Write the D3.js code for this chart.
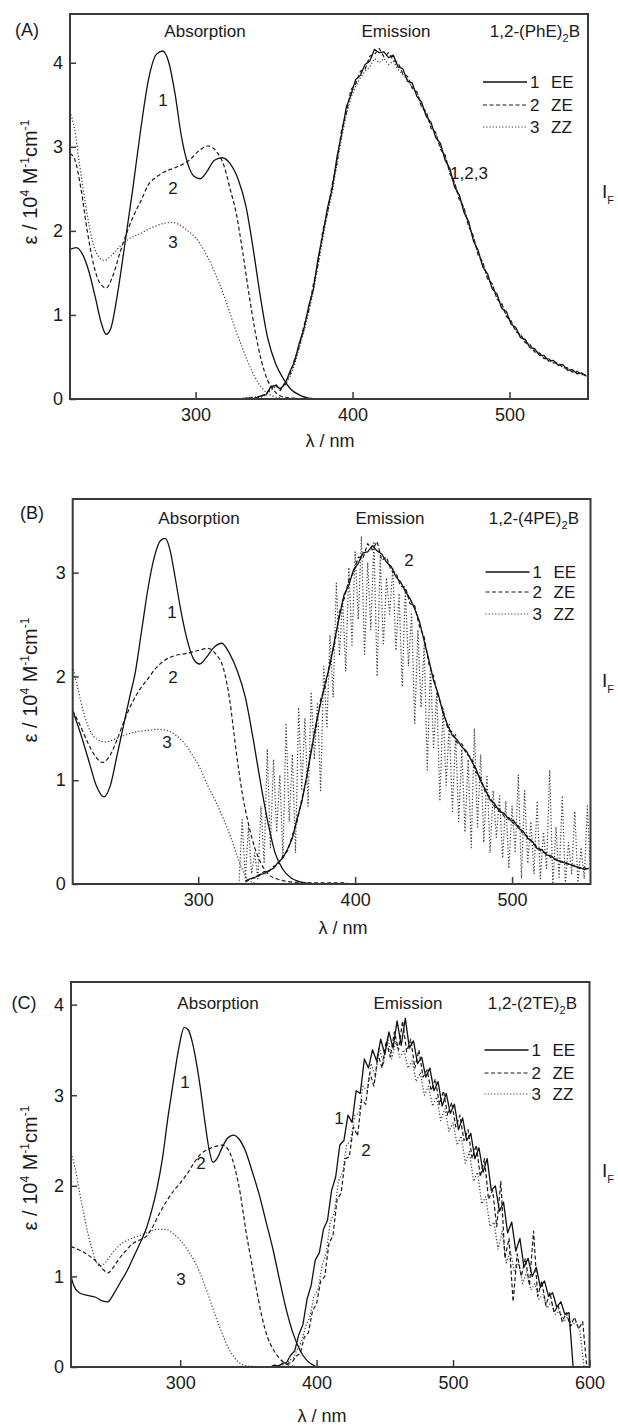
<!DOCTYPE html>
<html>
<head>
<meta charset="utf-8">
<script src="https://cdn.jsdelivr.net/npm/d3@7"></script>
<style>
  body { margin: 0; background: #fff; }
  svg { display: block; }
  text { font-family: "Liberation Sans", Arial, sans-serif; fill: #1a1a1a; }
</style>
</head>
<body>
<div id="chart"></div>
<script>
// ---- axis ticks ----
const xTicksAB = [300, 400, 500];
const xTicksC = [300, 400, 500, 600];
const yTicksA = [0, 1, 2, 3, 4];
const yTicksB = [0, 1, 2, 3];
const yTicksC = [0, 1, 2, 3, 4];
const seriesNames = ['EE', 'ZE', 'ZZ'];
const legendNums = ['1', '2', '3'];

// ---- absorption spectra [nm, eps / 10^4] ----
const absA_EE = [[220,1.78],[224,1.8],[228,1.72],[232,1.52],[236,1.22],[240,0.9],[243,0.77],[246,0.84],[250,1.22],[255,1.85],[260,2.5],[265,3.2],[270,3.8],[275,4.1],[279,4.14],[283,4.0],[287,3.62],[291,3.12],[295,2.8],[299,2.65],[303,2.62],[307,2.7],[312,2.84],[317,2.87],[322,2.8],[327,2.62],[332,2.3],[337,1.75],[341,1.25],[346,0.72],[351,0.42],[356,0.24],[361,0.11],[366,0.05],[372,0.01],[380,0]];
const absA_ZE = [[220,2.92],[223,2.85],[227,2.5],[231,2.0],[235,1.6],[239,1.38],[243,1.32],[247,1.45],[252,1.75],[257,2.02],[261,2.2],[265,2.35],[270,2.55],[275,2.64],[280,2.7],[288,2.76],[296,2.84],[302,2.95],[308,3.01],[313,2.95],[318,2.78],[322,2.5],[326,2.2],[330,1.75],[334,1.25],[338,0.8],[342,0.45],[346,0.22],[350,0.1],[355,0.03],[362,0.01],[370,0],[398,0]];
const absA_ZZ = [[220,3.42],[223,3.2],[226,2.8],[230,2.3],[234,1.9],[238,1.7],[242,1.65],[246,1.7],[250,1.78],[255,1.87],[260,1.93],[265,1.97],[270,2.02],[275,2.06],[280,2.09],[285,2.1],[290,2.07],[295,2.0],[300,1.92],[305,1.78],[310,1.6],[315,1.38],[320,1.13],[325,0.85],[330,0.6],[335,0.37],[340,0.19],[345,0.08],[350,0.03],[355,0.01],[360,0]];

const absB_EE = [[220,1.67],[225,1.45],[230,1.2],[235,0.95],[240,0.84],[244,0.95],[248,1.22],[252,1.5],[256,1.78],[260,2.05],[264,2.45],[268,2.85],[272,3.15],[276,3.31],[279,3.33],[282,3.22],[285,2.98],[289,2.63],[293,2.35],[297,2.17],[301,2.12],[305,2.18],[310,2.28],[315,2.32],[320,2.22],[325,2.05],[330,1.8],[335,1.4],[340,0.95],[345,0.55],[349,0.3],[354,0.14],[359,0.06],[365,0.02],[372,0]];
const absB_ZE = [[220,1.67],[225,1.52],[230,1.35],[235,1.22],[239,1.17],[243,1.22],[248,1.38],[253,1.58],[258,1.75],[263,1.88],[268,1.98],[273,2.08],[278,2.15],[285,2.2],[292,2.22],[300,2.25],[306,2.27],[311,2.22],[316,2.08],[320,1.78],[324,1.3],[328,0.88],[332,0.58],[336,0.35],[340,0.2],[345,0.09],[350,0.05],[360,0.02],[380,0.01],[395,0.01]];
const absB_ZZ = [[220,2.1],[223,1.9],[227,1.65],[231,1.48],[236,1.39],[241,1.37],[246,1.39],[251,1.42],[256,1.45],[262,1.47],[268,1.48],[274,1.49],[280,1.48],[286,1.43],[291,1.36],[296,1.25],[301,1.12],[306,0.95],[311,0.8],[316,0.63],[321,0.44],[326,0.22],[330,0.08],[334,0.02],[340,0]];

const absC_EE = [[220,1.0],[222,0.9],[226,0.82],[232,0.79],[238,0.77],[243,0.73],[247,0.72],[251,0.8],[256,0.93],[261,1.06],[266,1.22],[271,1.38],[275,1.52],[279,1.72],[283,1.97],[287,2.3],[291,2.75],[295,3.15],[299,3.52],[303,3.75],[306,3.72],[309,3.58],[312,3.35],[315,3.06],[318,2.72],[321,2.42],[324,2.26],[327,2.3],[331,2.43],[335,2.53],[339,2.56],[343,2.52],[348,2.38],[353,2.15],[358,1.9],[363,1.6],[368,1.3],[373,0.95],[378,0.62],[383,0.36],[388,0.18],[393,0.07],[399,0.01]];
const absC_ZE = [[220,1.33],[225,1.3],[230,1.26],[235,1.21],[240,1.14],[244,1.07],[247,1.04],[251,1.1],[255,1.19],[260,1.28],[265,1.36],[270,1.4],[275,1.44],[280,1.55],[285,1.7],[290,1.83],[295,1.94],[300,2.03],[305,2.13],[310,2.25],[315,2.35],[320,2.4],[325,2.43],[331,2.45],[336,2.38],[340,2.2],[344,1.92],[348,1.52],[352,1.18],[356,0.85],[360,0.55],[364,0.33],[368,0.2],[372,0.11],[376,0.05],[380,0.02],[387,0]];
const absC_ZZ = [[220,2.36],[223,2.2],[226,1.95],[229,1.72],[232,1.5],[235,1.32],[238,1.18],[241,1.11],[245,1.15],[250,1.25],[256,1.35],[263,1.41],[270,1.45],[277,1.49],[283,1.52],[289,1.52],[295,1.47],[300,1.4],[305,1.3],[310,1.18],[315,1.02],[320,0.82],[325,0.6],[330,0.4],[335,0.22],[340,0.1],[345,0.03],[350,0.01],[370,0]];

// ---- emission spectra: first wavelength, step (nm), intensities ----
const emA_EE = [0.00,0.01,0.00,0.02,0.04,0.05,0.15,0.16,0.12,0.18,0.32,0.44,0.66,0.83,1.1,1.3,1.67,1.95,2.27,2.5,2.87,3.15,3.47,3.62,3.8,3.85,3.98,4.02,4.16,4.12,4.13,4.06,4.09,3.95,3.93,3.78,3.76,3.6,3.53,3.36,3.29,3.11,3.04,2.84,2.74,2.52,2.43,2.22,2.11,1.88,1.77,1.57,1.49,1.31,1.25,1.08,1.04,0.89,0.85,0.73,0.71,0.61,0.6,0.52,0.52,0.45,0.46,0.4,0.41,0.34,0.35,0.3,0.31,0.27];
const emA_ZE = [0.01,0.00,0.02,0.01,0.03,0.07,0.12,0.18,0.1,0.2,0.28,0.47,0.62,0.87,1.05,1.36,1.6,2.0,2.21,2.55,2.8,3.2,3.4,3.68,3.75,3.9,3.92,4.08,4.1,4.17,4.07,4.12,4.03,4.0,3.87,3.84,3.7,3.65,3.47,3.42,3.22,3.17,2.97,2.9,2.68,2.58,2.37,2.28,2.05,1.94,1.71,1.63,1.43,1.37,1.19,1.14,0.98,0.93,0.8,0.77,0.67,0.65,0.56,0.55,0.48,0.48,0.43,0.43,0.38,0.37,0.32,0.33,0.29,0.29];
const emA_ZZ = [0.00,0.02,0.01,0.03,0.02,0.06,0.1,0.15,0.13,0.16,0.26,0.4,0.6,0.8,1.02,1.28,1.58,1.9,2.2,2.45,2.78,3.1,3.38,3.58,3.72,3.82,3.9,3.95,4.05,4.0,4.05,3.98,4.02,3.92,3.86,3.8,3.7,3.66,3.48,3.4,3.25,3.16,3.0,2.88,2.7,2.56,2.4,2.27,2.07,1.92,1.73,1.62,1.44,1.36,1.2,1.12,1.0,0.92,0.82,0.76,0.68,0.64,0.57,0.55,0.49,0.47,0.43,0.42,0.37,0.36,0.33,0.31,0.3,0.27];

const emB_EE = [0.03,0.05,0.06,0.09,0.1,0.13,0.15,0.21,0.25,0.34,0.44,0.63,0.79,1.03,1.27,1.54,1.74,1.94,2.11,2.36,2.58,2.79,2.88,3.03,3.09,3.19,3.2,3.26,3.21,3.18,3.1,3.06,2.96,2.91,2.82,2.75,2.65,2.53,2.34,2.16,1.96,1.83,1.65,1.53,1.43,1.39,1.32,1.28,1.19,1.11,0.99,0.91,0.81,0.77,0.7,0.68,0.62,0.61,0.54,0.51,0.44,0.41,0.34,0.33,0.28,0.27,0.23,0.22,0.2,0.19,0.17,0.16,0.14,0.15];
const emB_ZE = [0.02,0.04,0.07,0.08,0.12,0.12,0.17,0.19,0.27,0.32,0.47,0.6,0.82,1.0,1.3,1.5,1.78,1.9,2.15,2.32,2.62,2.75,2.93,3.0,3.15,3.14,3.28,3.22,3.3,3.12,3.15,3.02,3.0,2.87,2.86,2.7,2.68,2.48,2.38,2.12,2.0,1.8,1.68,1.5,1.46,1.36,1.35,1.25,1.22,1.08,1.02,0.88,0.84,0.74,0.72,0.65,0.64,0.58,0.56,0.48,0.46,0.39,0.36,0.31,0.3,0.25,0.24,0.21,0.21,0.18,0.18,0.15,0.16,0.13];
const emB_ZZ = [0.0,0.62,0.05,0.55,0.1,0.3,0.05,0.75,0.2,1.3,0.35,1.2,0.5,1.05,0.25,1.55,0.6,1.25,0.3,1.7,0.9,1.6,0.75,1.85,1.2,1.75,0.9,2.1,1.5,2.4,1.8,2.9,2.2,2.75,2.05,3.05,2.3,3.2,2.55,3.35,2.2,3.1,2.45,3.3,2.0,3.15,2.3,2.95,2.6,3.05,2.25,2.8,1.9,2.85,2.1,2.6,1.55,2.45,1.7,2.3,1.1,2.1,1.3,1.85,0.8,1.7,0.95,1.55,0.7,1.45,0.6,1.3,0.5,1.2,0.35,1.5,0.55,1.25,0.4,1.05,0.3,0.9,0.45,0.85,0.25,0.8,0.15,0.75,0.3,1.05,0.05,0.9,0.2,0.6,0.1,0.8,0.05,0.5,0.15,1.1,0.0,0.55,0.05,0.85,0.0,0.4,0.1,0.7,0.0,0.35,0.05,0.75,0.1];

const emC_EE = [0.0,0.02,0.01,0.04,0.05,0.13,0.18,0.36,0.47,0.75,0.9,1.18,1.26,1.52,1.62,1.95,2.1,2.45,2.5,2.78,2.7,3.05,3.02,3.4,3.3,3.5,3.38,3.62,3.45,3.7,3.52,3.82,3.55,3.85,3.52,3.6,3.35,3.42,3.2,3.3,3.05,3.15,2.88,3.02,2.8,2.9,2.62,2.75,2.5,2.58,2.3,2.42,2.15,2.3,1.95,2.0,1.72,1.82,1.48,1.6,1.28,1.42,1.1,1.2,1.0,1.1,0.88,0.95,0.78,0.82,0.66,0.72,0.58,0.6,0.0];
const emC_ZE = [0.0,0.02,0.0,0.04,0.05,0.12,0.15,0.33,0.38,0.62,0.7,0.95,1.0,1.36,1.45,1.85,1.92,2.3,2.32,2.65,2.55,2.95,2.9,3.25,3.1,3.45,3.3,3.6,3.42,3.7,3.5,3.82,3.48,3.62,3.3,3.5,3.2,3.28,3.05,3.18,2.9,3.05,2.78,2.92,2.65,2.78,2.5,2.62,2.3,2.45,2.1,2.3,1.85,1.95,1.55,2.05,1.2,1.42,0.72,1.25,1.0,1.2,0.9,1.5,0.78,0.95,0.68,0.82,0.6,0.68,0.5,0.6,0.45,0.55,0.42,0.5,0.0];
const emC_ZZ = [0.0,0.01,0.02,0.03,0.07,0.1,0.2,0.28,0.45,0.55,0.78,0.85,1.12,1.25,1.6,1.7,2.05,2.15,2.45,2.5,2.78,2.8,3.1,3.05,3.35,3.2,3.52,3.35,3.65,3.4,3.6,3.42,3.5,3.3,3.38,3.15,3.25,3.0,3.1,2.88,2.98,2.72,2.85,2.6,2.7,2.45,2.55,2.25,2.38,2.05,2.15,1.8,1.88,1.55,1.6,1.3,1.5,1.15,1.28,1.05,1.15,0.92,1.05,0.85,0.92,0.75,0.8,0.65,0.72,0.58,0.62,0.5,0.55,0.46,0.5,0.4,0.0];

const W = 618, H = 1426;
const FONT = 17;
const TICK_FONT = 18;

const STYLE = {
  EE: { dash: null, color: '#111', width: 1.3 },
  ZE: { dash: '4,2.5', color: '#1a1a1a', width: 1.2 },
  ZZ: { dash: '1.2,2', color: '#3a3a3a', width: 1.2 }
};

const panels = [
  {
    key: 'A', tag: '(A)', compound: ['1,2-(PhE)', '2', 'B'],
    box: { l: 70, r: 588, t: 14, b: 399 }, xDomain: [220, 550], yMax: 4.58,
    xTicks: xTicksAB, yTicks: yTicksA,
    abs: { EE: absA_EE, ZE: absA_ZE, ZZ: absA_ZZ },
    em: { EE: [330, 3, emA_EE], ZE: [330, 3, emA_ZE], ZZ: [330, 3, emA_ZZ] },
    tagPos: [27, 30], headY: 31, absX: 205, emX: 396, cmpEnd: 580,
    legendY: [82, 105, 127], ifY: 191, yTitleY: 182, xTitle: [330, 441],
    labels: [['1', 163, 100], ['2', 173, 188], ['3', 173, 242], ['1,2,3', 469, 173]]
  },
  {
    key: 'B', tag: '(B)', compound: ['1,2-(4PE)', '2', 'B'],
    box: { l: 72.7, r: 590.5, t: 499, b: 884 }, xDomain: [220, 550], yMax: 3.71,
    xTicks: xTicksAB, yTicks: yTicksB,
    abs: { EE: absB_EE, ZE: absB_ZE, ZZ: absB_ZZ },
    em: { EE: [330, 3, emB_EE], ZE: [330, 3, emB_ZE], ZZ: [326, 2, emB_ZZ] },
    tagPos: [32, 513], headY: 518, absX: 199, emX: 390, cmpEnd: 579,
    legendY: [572, 592, 614], ifY: 680, yTitleY: 680, xTitle: [343, 928],
    labels: [['1', 172, 612], ['2', 173, 677], ['3', 167, 742], ['2', 409, 560]]
  },
  {
    key: 'C', tag: '(C)', compound: ['1,2-(2TE)', '2', 'B'],
    box: { l: 71, r: 589.5, t: 982, b: 1367 }, xDomain: [220, 600], yMax: 4.25,
    xTicks: xTicksC, yTicks: yTicksC,
    abs: { EE: absC_EE, ZE: absC_ZE, ZZ: absC_ZZ },
    em: { EE: [366, 3, emC_EE], ZE: [370, 3, emC_ZE], ZZ: [368, 3, emC_ZZ] },
    tagPos: [24, 1003], headY: 1003, absX: 218, emX: 408, cmpEnd: 577,
    legendY: [1050, 1073, 1094], ifY: 1170, yTitleY: 1168, xTitle: [322, 1416],
    labels: [['1', 185, 1082], ['2', 201, 1163], ['3', 181, 1279], ['1', 339, 1118], ['2', 366, 1150]]
  }
];

const svg = d3.select('#chart').append('svg')
  .attr('width', W)
  .attr('height', H);

svg.append('rect').attr('width', W).attr('height', H).attr('fill', '#fff');

function styled(sel, name) {
  const s = STYLE[name];
  return sel.attr('fill', 'none')
    .attr('stroke', s.color)
    .attr('stroke-width', s.width)
    .attr('stroke-dasharray', s.dash)
    .attr('stroke-linejoin', 'round');
}

function drawPanel(p) {
  const g = svg.append('g').attr('class', 'panel-' + p.key);
  const x = d3.scaleLinear().domain(p.xDomain).range([p.box.l, p.box.r]);
  const y = d3.scaleLinear().domain([0, p.yMax]).range([p.box.b, p.box.t]);

  svg.append('clipPath').attr('id', 'clip' + p.key)
    .append('rect')
    .attr('x', p.box.l).attr('y', p.box.t)
    .attr('width', p.box.r - p.box.l).attr('height', p.box.b - p.box.t);

  const plot = g.append('g').attr('clip-path', 'url(#clip' + p.key + ')');

  const absLine = d3.line()
    .x(d => x(d[0]))
    .y(d => y(d[1]))
    .curve(d3.curveMonotoneX);

  const emLine = d3.line()
    .x(d => x(d[0]))
    .y(d => y(d[1]));

  // emission first, absorption on top
  ['ZZ', 'ZE', 'EE'].forEach(name => {
    const [start, step, vals] = p.em[name];
    const pts = vals.map((v, i) => [start + i * step, v]);
    styled(plot.append('path').datum(pts).attr('d', emLine), name);
  });
  ['ZZ', 'ZE', 'EE'].forEach(name => {
    styled(plot.append('path').datum(p.abs[name]).attr('d', absLine), name);
  });

  // axes
  const xAxis = g.append('g')
    .attr('transform', 'translate(0,' + p.box.b + ')')
    .call(d3.axisBottom(x).tickValues(p.xTicks).tickSizeInner(-7).tickSizeOuter(0).tickPadding(9).tickFormat(d3.format('d')));
  const yAxis = g.append('g')
    .attr('transform', 'translate(' + p.box.l + ',0)')
    .call(d3.axisLeft(y).tickValues(p.yTicks).tickSizeInner(-6).tickSizeOuter(0).tickPadding(7).tickFormat(d3.format('d')));
  [xAxis, yAxis].forEach(a => {
    a.attr('font-size', TICK_FONT);
    a.select('.domain').remove();
    a.selectAll('.tick line').attr('stroke', '#3a3a3a').attr('stroke-width', 1.5);
  });

  // frame
  g.append('rect')
    .attr('x', p.box.l).attr('y', p.box.t)
    .attr('width', p.box.r - p.box.l).attr('height', p.box.b - p.box.t)
    .attr('fill', 'none')
    .attr('stroke', '#3a3a3a')
    .attr('stroke-width', 2);

  // headings
  const t = (xx, yy, str, anchor, size) => g.append('text')
    .attr('x', xx).attr('y', yy).attr('dy', '0.35em')
    .attr('font-size', size || FONT)
    .attr('text-anchor', anchor || 'middle')
    .text(str);

  t(p.tagPos[0], p.tagPos[1], p.tag, 'middle', 18);
  t(p.absX, p.headY, 'Absorption');
  t(p.emX, p.headY, 'Emission');

  const cmp = g.append('text')
    .attr('x', p.cmpEnd).attr('y', p.headY).attr('dy', '0.35em')
    .attr('font-size', FONT).attr('text-anchor', 'end');
  cmp.append('tspan').text(p.compound[0]);
  cmp.append('tspan').attr('dy', 5).attr('font-size', 11).text(p.compound[1]);
  cmp.append('tspan').attr('dy', -5).text(p.compound[2]);

  // legend
  seriesNames.forEach((name, i) => {
    const ly = p.legendY[i];
    styled(g.append('line').attr('x1', p.box.r - 105).attr('x2', p.box.r - 61).attr('y1', ly).attr('y2', ly), name);
    t(p.box.r - 58, ly, legendNums[i], 'start');
    t(p.box.r - 37, ly, name, 'start');
  });

  // curve labels
  p.labels.forEach(l => t(l[1], l[2], l[0]));

  // right axis label I_F
  const iF = g.append('text')
    .attr('x', 602).attr('y', p.ifY).attr('dy', '0.35em')
    .attr('font-size', 19);
  iF.append('tspan').text('I');
  iF.append('tspan').attr('dy', 6).attr('font-size', 11).text('F');

  // x title
  t(p.xTitle[0], p.xTitle[1], 'λ / nm', 'middle', 18);

  // y title
  const yt = g.append('text')
    .attr('transform', 'translate(30,' + p.yTitleY + ') rotate(-90)')
    .attr('dy', '0.35em')
    .attr('font-size', 20)
    .attr('text-anchor', 'middle');
  yt.append('tspan').text('ε / 10');
  yt.append('tspan').attr('dy', -8).attr('font-size', 12).text('4');
  yt.append('tspan').attr('dy', 8).text(' M');
  yt.append('tspan').attr('dy', -8).attr('font-size', 12).text('-1');
  yt.append('tspan').attr('dy', 8).text('cm');
  yt.append('tspan').attr('dy', -8).attr('font-size', 12).text('-1');
}

panels.forEach(drawPanel);
</script>
</body>
</html>
